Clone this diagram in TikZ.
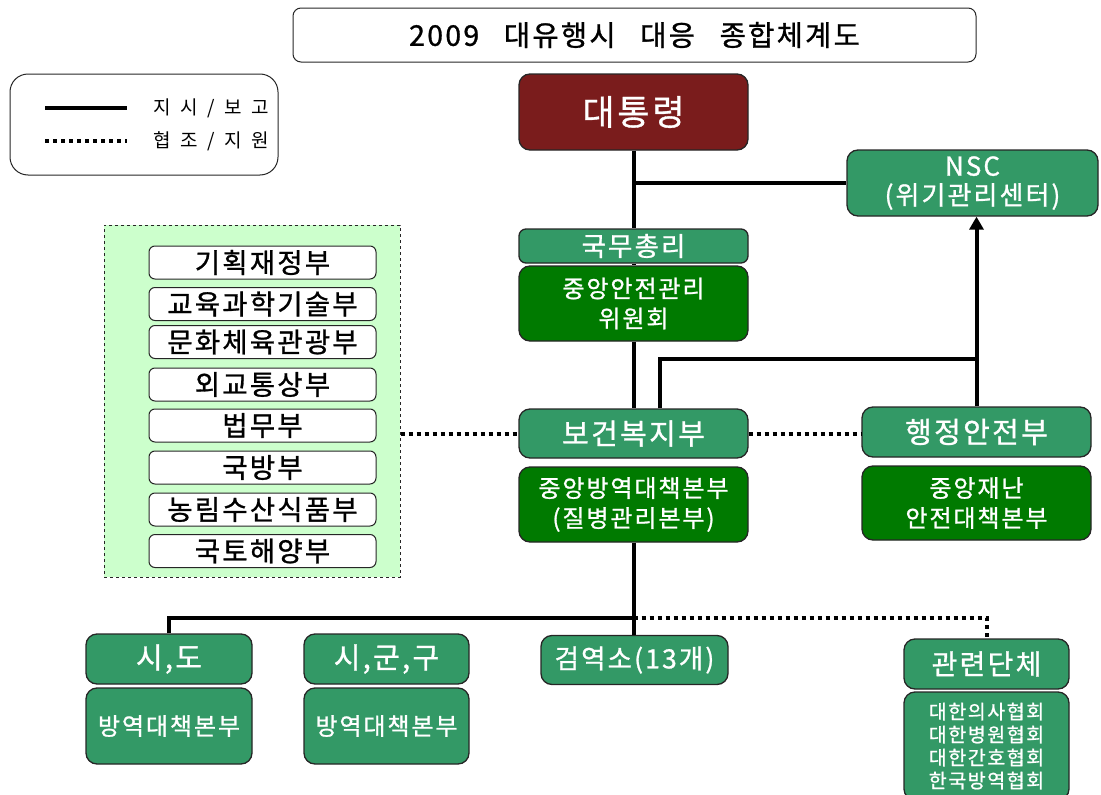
\documentclass[tikz,border=0pt]{standalone}
\usepackage{fontspec}
\setmainfont[LetterSpace=8,FakeBold=1]{Noto Sans CJK KR}
\newfontfamily\lgfont[LetterSpace=50]{Noto Sans CJK KR}
\usetikzlibrary{arrows.meta}
\definecolor{pred}{HTML}{7A1C1C}
\definecolor{mgreen}{HTML}{339966}
\definecolor{dgreen}{HTML}{007A00}
\definecolor{lgreen}{HTML}{CCFFCC}
\tikzset{
  fs/.style 2 args={font=\fontsize{#1}{#2}\selectfont},
  box/.style={draw=black!85, line width=1.3pt, rounded corners=11pt, text=white, align=center, inner sep=0pt},
  mid/.style={box, fill=mgreen},
  dk/.style={box, fill=dgreen},
  wbox/.style={draw=black!85, line width=1pt, rounded corners=6pt, fill=white, minimum width=227pt, minimum height=33pt, inner sep=0pt, font=\fontsize{27.5}{29}\selectfont},
  solidline/.style={line width=4pt},
  dotline/.style={line width=4pt, dash pattern=on 4pt off 4pt},
}
\begin{document}
\begin{tikzpicture}[x=1pt,y=-1pt]
\useasboundingbox (0,0) rectangle (1101,795);
% title
\node[draw=black!85, line width=1pt, rounded corners=8pt, minimum width=683pt, minimum height=54pt, inner sep=0pt, fs={28.5}{30}] (title) at (634.5,35) {2009\hspace{16pt} 대유행시\hspace{16pt} 대응\hspace{16pt} 종합체계도};
% legend
\node[draw=black!85, line width=1pt, rounded corners=18pt, minimum width=268pt, minimum height=101pt, inner sep=0pt] (legend) at (144,124.5) {};
\draw[solidline] (45,108) -- (127,108);
\draw[dotline] (45,141) -- (127,141);
\node[anchor=west, inner sep=0pt, font=\lgfont\fontsize{19}{21}\selectfont] (lg1) at (153,108) {지시/보고};
\node[anchor=west, inner sep=0pt, font=\lgfont\fontsize{19}{21}\selectfont] (lg2) at (153,141) {협조/지원};
% main column
\node[box, fill=pred, minimum width=229pt, minimum height=76pt, fs={35}{38}] (pres) at (633.5,112) {대통령};
\node[mid, minimum width=251pt, minimum height=66pt, fs={26}{29}] (nsc) at (972.5,183) {NSC\\(위기관리센터)};
\node[mid, minimum width=229pt, minimum height=34pt, fs={26.5}{28}, rounded corners=7pt] (pm) at (633.5,246) {국무총리};
\node[dk, minimum width=229pt, minimum height=75pt, fs={24}{30}] (cscc) at (633.5,303.5) {중앙안전관리\\위원회};
\node[mid, minimum width=229pt, minimum height=49pt, fs={29}{30}] (mohw) at (633.5,433.5) {보건복지부};
\node[mid, minimum width=229pt, minimum height=50pt, fs={29}{30}] (mois) at (976.5,432) {행정안전부};
\node[dk, minimum width=229pt, minimum height=75pt, fs={24}{30}] (cdc) at (633.5,504.5) {중앙방역대책본부\\(질병관리본부)};
\node[dk, minimum width=229pt, minimum height=74pt, fs={24}{30}] (cdsc) at (976.5,503) {중앙재난\\안전대책본부};
% ministries group
\node[draw=black!85, dashed, line width=1pt, fill=lgreen, minimum width=296pt, minimum height=352pt, inner sep=0pt] (group) at (252,401) {};
\node[wbox] (m1) at (262.5,262.5) {기획재정부};
\node[wbox] (m2) at (262.5,304) {교육과학기술부};
\node[wbox] (m3) at (262.5,342) {문화체육관광부};
\node[wbox] (m4) at (262.5,384.5) {외교통상부};
\node[wbox] (m5) at (262.5,425.5) {법무부};
\node[wbox] (m6) at (262.5,467.5) {국방부};
\node[wbox] (m7) at (262.5,509.5) {농림수산식품부};
\node[wbox] (m8) at (262.5,551) {국토해양부};
% bottom row
\node[mid, minimum width=166pt, minimum height=50pt, fs={29}{30}] (sido) at (169,659) {시,도};
\node[mid, minimum width=166pt, minimum height=76pt, fs={24}{26}] (sidob) at (169,726) {방역대책본부};
\node[mid, minimum width=165pt, minimum height=50pt, fs={29}{30}] (sgg) at (386.5,659) {시,군,구};
\node[mid, minimum width=165pt, minimum height=76pt, fs={24}{26}] (sggb) at (386.5,726) {방역대책본부};
\node[mid, minimum width=187pt, minimum height=49pt, fs={26.5}{28}] (qs) at (634.5,660) {검역소(13개)};
\node[mid, minimum width=165pt, minimum height=50pt, fs={28}{30}] (assoc) at (986.5,664) {관련단체};
\node[mid, minimum width=165pt, minimum height=108pt, fs={19.5}{23}] (assocb) at (986.5,746) {대한의사협회\\대한병원협회\\대한간호협회\\한국방역협회};
% connectors
\draw[solidline] (pres.south) -- (pm.north);
\draw[solidline] (pres.south |- nsc.west) -- (nsc.west);
\draw[solidline] (pm.south) -- (cscc.north);
\draw[solidline] (cscc.south) -- (mohw.north);
\coordinate (j1) at (660,359);
\draw[solidline] (mohw.north -| j1) -- (j1) -- (j1 -| mois.north);
\draw[solidline, -{Triangle[length=13pt,width=14pt]}] (mois.north) -- (mois.north |- nsc.south);
\draw[dotline] (group.east |- mohw.west) -- (mohw.west);
\draw[dotline] (mohw.east) -- (mohw.east -| mois.west);
\draw[solidline] (cdc.south) -- (cdc.south |- qs.north);
\coordinate (hb) at (633.5,618);
\draw[solidline] (sido.north) -- (sido.north |- hb) -- (hb);
\draw[dotline] (hb) -- (hb -| assoc.north) -- (assoc.north);
\end{tikzpicture}
\end{document}
